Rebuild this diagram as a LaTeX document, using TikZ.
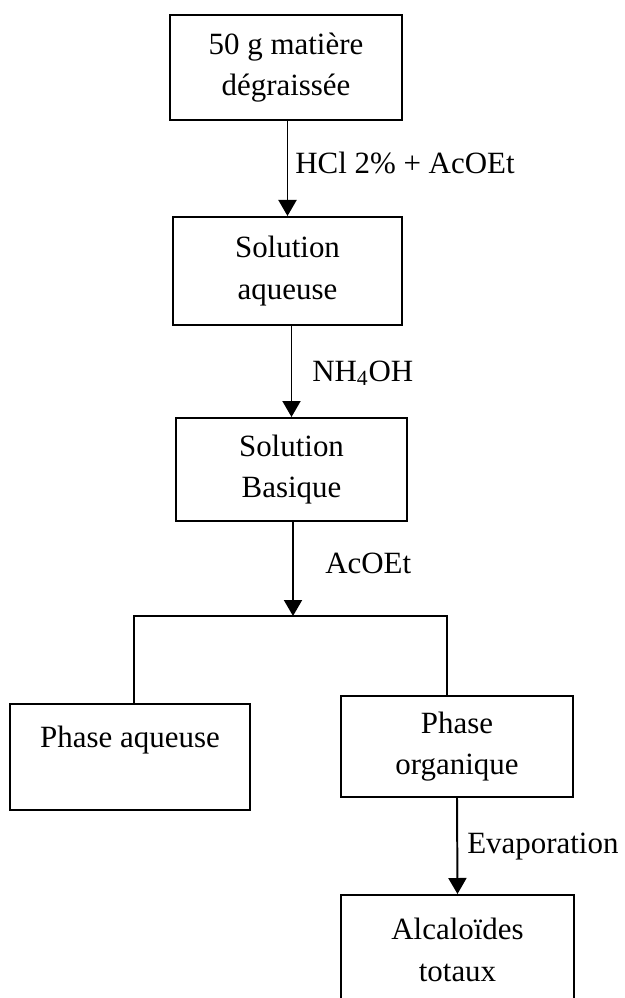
\documentclass[tikz,border=0pt]{standalone}
\usepackage{fontspec}
\setmainfont{Liberation Serif}
\usetikzlibrary{positioning}
\usetikzlibrary{arrows.meta}
\def\thickness{heavy}
\def\bigtext{\fontsize{22}{29.5}\selectfont}
\tikzset{
heavy/.style={line width=1.4pt},
stage/.style 2 args={
	draw, \thickness, rectangle, align=center, inner sep=0pt,
	minimum width=#1, minimum height=#2, font=\bigtext
},
flow/.style={\thickness, -{Triangle[length=0.4cm, width=0.45cm]}},
reagent/.style={anchor=west, inner sep=0pt, font=\bigtext},
}

\begin{document}
\begin{tikzpicture}[x=0.025cm, y=-0.025cm]
	\useasboundingbox (0,0) rectangle (624,998);
	\clip (0,0) rectangle (624,998);

	\node[stage={5.8cm}{2.625cm}] (start) at (286,67.5) {50 g matière\\dégraissée};
	\node[stage={5.725cm}{2.7cm}] (aqsol) at (287.5,271) {Solution\\aqueuse};
	\node[stage={5.775cm}{2.575cm}] (basic) at (291.5,469.5) {Solution\\Basique};
	\node[stage={6cm}{2.65cm}] (aqphase) at (130,757) {Phase aqueuse\\\mbox{}};
	\node[stage={5.8cm}{2.525cm}] (orgphase) at (457,746.5) {Phase\\organique};
	\node[stage={5.825cm}{2.75cm}] (total) at (457.5,950) {Alcaloïdes\\totaux};

	%
	\coordinate (split) at (293,616);
	\coordinate (splitl) at (134,616);
	\coordinate (splitr) at (447,616);

	%
	\node[reagent] (hcl) at (295,163) {HCl 2\% + AcOEt};
	\node[reagent] (base) at (312,373) {NH\textsubscript{4}OH};
	\node[reagent] (solvent) at (325,563) {AcOEt};
	\node[reagent] (evap) at (467,847) {Evaporation};

	\draw[flow] (aqsol.north |- start.south) to (aqsol.north);
	\draw[flow] (basic.north |- aqsol.south) to (basic.north);
	\draw[flow] (split |- basic.south) to (split);

	%
	\draw[\thickness] (aqphase.north -| splitl) -- (splitl) -- (splitr) -- (orgphase.north -| splitr);

	\draw[flow] (orgphase.south) to (total.north);
\end{tikzpicture}
\end{document}
